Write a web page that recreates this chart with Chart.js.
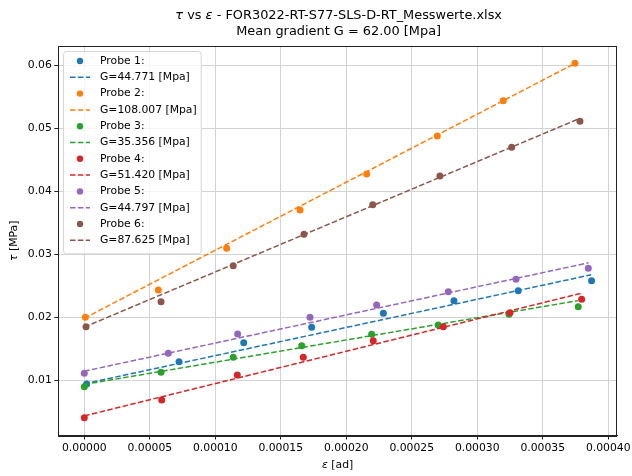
<!DOCTYPE html>
<html lang="en">
<head>
<meta charset="UTF-8">
<title>tau vs epsilon</title>
<script src="https://cdn.jsdelivr.net/npm/chart.js"></script>
<style>
  body { margin: 0; background: #fff; }
  #wrap { width: 632px; height: 476px; }
</style>
</head>
<body>
<div id="wrap"><canvas id="chart"></canvas></div>
<script>
const titleLines = ['τ vs ε - FOR3022-RT-S77-SLS-D-RT_Messwerte.xlsx', 'Mean gradient G = 62.00 [Mpa]'];
const xTitle = 'ε [ad]';
const yTitle = 'τ [MPa]';
const probeLabels = ['Probe 1:', 'Probe 2:', 'Probe 3:', 'Probe 4:', 'Probe 5:', 'Probe 6:'];
const fitLabels = ['G=44.771 [Mpa]', 'G=108.007 [Mpa]', 'G=35.356 [Mpa]', 'G=51.420 [Mpa]', 'G=44.797 [Mpa]', 'G=87.625 [Mpa]'];
const colors = ['#1f77b4', '#ff7f0e', '#2ca02c', '#d62728', '#9467bd', '#8c564b'];

// measured points (strain [ad], shear stress [MPa])
const eps1 = [0.0000018, 0.0000723, 0.0001217, 0.0001736, 0.0002283, 0.0002822, 0.0003313, 0.0003873];
const tau1 = [0.00937, 0.0129, 0.01592, 0.01837, 0.02059, 0.02259, 0.02417, 0.02576];
const eps2 = [0.0000008, 0.0000565, 0.0001087, 0.0001647, 0.0002156, 0.0002695, 0.0003199, 0.0003746];
const tau2 = [0.01996, 0.02429, 0.0309, 0.03698, 0.0427, 0.04873, 0.05433, 0.06027];
const eps3 = [0, 0.0000586, 0.0001137, 0.000166, 0.0002194, 0.0002702, 0.0003242, 0.0003771];
const tau3 = [0.00894, 0.01122, 0.0136, 0.01544, 0.01725, 0.01873, 0.02043, 0.02163];
const eps4 = [0, 0.0000591, 0.0001168, 0.0001672, 0.0002206, 0.0002741, 0.000325, 0.0003797];
const tau4 = [0.00402, 0.00683, 0.01079, 0.0136, 0.01624, 0.01846, 0.02068, 0.02281];
const eps5 = [0, 0.0000641, 0.0001171, 0.0001723, 0.0002232, 0.0002779, 0.0003296, 0.0003848];
const tau5 = [0.01106, 0.01424, 0.0173, 0.01995, 0.0219, 0.02402, 0.02598, 0.02773];
const eps6 = [0.0000013, 0.0000586, 0.0001137, 0.0001677, 0.0002202, 0.0002715, 0.0003263, 0.0003784];
const tau6 = [0.01846, 0.02243, 0.02814, 0.03313, 0.03783, 0.04238, 0.04694, 0.05106];

// fitted lines, end points
const fitEps1 = [0, 0.000387];  const fitTau1 = [0.0094, 0.0267];
const fitEps2 = [0, 0.000375];  const fitTau2 = [0.0198, 0.0603];
const fitEps3 = [0, 0.000377];  const fitTau3 = [0.0093, 0.0226];
const fitEps4 = [0, 0.00038];   const fitTau4 = [0.0043, 0.0238];
const fitEps5 = [0, 0.000385];  const fitTau5 = [0.0114, 0.0286];
const fitEps6 = [0, 0.000378];  const fitTau6 = [0.0184, 0.0515];

const xTicks = [0, 0.00005, 0.0001, 0.00015, 0.0002, 0.00025, 0.0003, 0.00035, 0.0004];
const yTicks = [0.01, 0.02, 0.03, 0.04, 0.05, 0.06];

const FONT = 'DejaVu Sans';
const FS = 10.8;
const points = (xs, ys) => xs.map((x, i) => ({ x: x, y: ys[i] }));

const measured = [[eps1, tau1], [eps2, tau2], [eps3, tau3], [eps4, tau4], [eps5, tau5], [eps6, tau6]];
const fits = [[fitEps1, fitTau1], [fitEps2, fitTau2], [fitEps3, fitTau3], [fitEps4, fitTau4], [fitEps5, fitTau5], [fitEps6, fitTau6]];

const datasets = [];
measured.forEach((m, i) => {
    datasets.push({
        label: probeLabels[i],
        data: points(m[0], m[1]),
        showLine: false,
        pointRadius: 3.5,
        pointBorderWidth: 0,
        backgroundColor: colors[i],
        borderColor: colors[i],
        kind: 'dot'
    });
    datasets.push({
        label: fitLabels[i],
        data: points(fits[i][0], fits[i][1]),
        showLine: true,
        pointRadius: 0,
        borderWidth: 1.5,
        borderDash: [5.5, 2.4],
        borderColor: colors[i],
        backgroundColor: colors[i],
        kind: 'line'
    });
});
// later series on top, like matplotlib
datasets.forEach((d, i) => d.order = datasets.length - i);

// text with greek letters set in italic (like mathtext), centred on cx
function mixedText(ctx, str, cx, cy, size) {
    const parts = str.split(/([τε])/).filter(p => p.length);
    const fontOf = p => (/[τε]/.test(p) ? 'italic ' : '') + size + 'px "' + FONT + '"';
    let total = 0;
    parts.forEach(p => { ctx.font = fontOf(p); total += ctx.measureText(p).width; });
    let x = cx - total / 2;
    ctx.textAlign = 'left';
    ctx.textBaseline = 'middle';
    parts.forEach(p => {
        ctx.font = fontOf(p);
        ctx.fillText(p, x, cy);
        x += ctx.measureText(p).width;
    });
}

const texts = {
    id: 'texts',
    afterDraw(chart) {
        const { ctx, chartArea: a } = chart;
        const cx = (a.left + a.right) / 2;
        ctx.save();
        ctx.fillStyle = '#000';
        mixedText(ctx, titleLines[0], cx + 1, 16, 12.9);
        mixedText(ctx, titleLines[1], cx + 1, 31.5, 12.9);
        mixedText(ctx, xTitle, cx, 465.5, FS);
        ctx.translate(14, (a.top + a.bottom) / 2);
        ctx.rotate(-Math.PI / 2);
        mixedText(ctx, yTitle, 0, 0, FS);
        ctx.restore();
    }
};

const frame = {
    id: 'frame',
    afterDatasetsDraw(chart) {
        const { ctx, chartArea: a } = chart;
        ctx.save();
        ctx.strokeStyle = '#222';
        ctx.lineWidth = 1;
        ctx.strokeRect(Math.round(a.left) + 0.5, Math.round(a.top) + 0.5,
            Math.round(a.right - a.left) - 1, Math.round(a.bottom - a.top));
        ctx.restore();
    }
};

const boxLegend = {
    id: 'boxLegend',
    afterDraw(chart) {
        const ctx = chart.ctx;
        const ds = chart.data.datasets;
        const left = 63, top = 51, rowH = 16.3, first = 61;
        const handleX = 70, handleW = 20, textX = 100;
        ctx.save();
        ctx.font = FS + 'px "' + FONT + '"';
        let w = 0;
        ds.forEach(d => { w = Math.max(w, ctx.measureText(d.label).width); });
        const right = textX + w + 4;
        const bottom = first + (ds.length - 1) * rowH + 13;
        ctx.beginPath();
        ctx.roundRect(left + 0.5, top + 0.5, right - left, bottom - top, 3);
        ctx.fillStyle = 'rgba(255,255,255,0.8)';
        ctx.fill();
        ctx.strokeStyle = '#d6d6d6';
        ctx.lineWidth = 1;
        ctx.stroke();
        ds.forEach((d, i) => {
            const y = first + i * rowH;
            if (d.kind === 'dot') {
                ctx.beginPath();
                ctx.arc(handleX + handleW / 2, y, 3.2, 0, Math.PI * 2);
                ctx.fillStyle = d.backgroundColor;
                ctx.fill();
            } else {
                ctx.beginPath();
                ctx.setLineDash(d.borderDash);
                ctx.moveTo(handleX, y);
                ctx.lineTo(handleX + handleW, y);
                ctx.strokeStyle = d.borderColor;
                ctx.lineWidth = 1.5;
                ctx.stroke();
                ctx.setLineDash([]);
            }
            ctx.fillStyle = '#000';
            ctx.textBaseline = 'middle';
            ctx.fillText(d.label, textX, y);
        });
        ctx.restore();
    }
};

new Chart(document.getElementById('chart'), {
    type: 'scatter',
    data: { datasets: datasets },
    plugins: [frame, boxLegend, texts],
    options: {
        responsive: true,
        maintainAspectRatio: false,
        animation: false,
        layout: { padding: { left: 0, right: 15, top: 46, bottom: 0 } },
        plugins: {
            legend: { display: false },
            tooltip: { enabled: false },
            title: { display: false }
        },
        scales: {
            x: {
                type: 'linear',
                min: -0.00001985,
                max: 0.0004067,
                afterBuildTicks: s => { s.ticks = xTicks.map(v => ({ value: v })); },
                afterFit: s => { s.height = 40.5; s.paddingLeft = 0; s.paddingRight = 0; },
                ticks: {
                    color: '#000',
                    font: { family: FONT, size: FS },
                    padding: 2,
                    maxRotation: 0,
                    autoSkip: false,
                    callback: v => v.toFixed(5)
                },
                grid: { color: '#d3d3d3', tickColor: '#222', tickLength: 4 },
                border: { color: '#222' }
            },
            y: {
                type: 'linear',
                min: 0.00119,
                max: 0.06302,
                afterBuildTicks: s => { s.ticks = yTicks.map(v => ({ value: v })); },
                afterFit: s => { s.width = 58.3; s.paddingTop = 0; s.paddingBottom = 0; },
                ticks: {
                    color: '#000',
                    font: { family: FONT, size: FS },
                    padding: 2.5,
                    autoSkip: false,
                    callback: v => v.toFixed(2)
                },
                grid: { color: '#d3d3d3', tickColor: '#222', tickLength: 4 },
                border: { color: '#222' }
            }
        }
    }
});
</script>
</body>
</html>
